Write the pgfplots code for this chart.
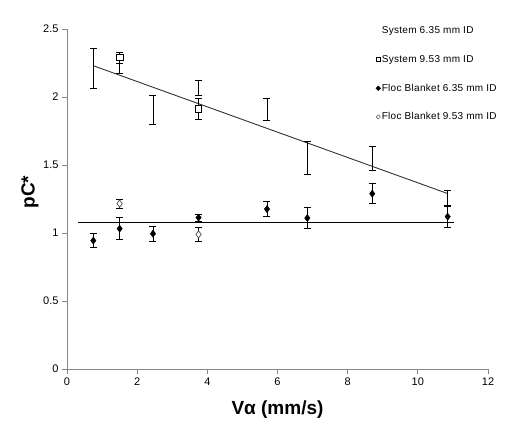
\documentclass[border=0pt]{standalone}
\usepackage{pgfplots}
\pgfplotsset{compat=1.18}
\usepackage{fontspec}
\setmainfont{Liberation Sans}
\definecolor{axgray}{HTML}{868686}
\definecolor{trendgray}{HTML}{333333}
\begin{document}
\begin{tikzpicture}
\useasboundingbox (-67pt,-67pt) rectangle (445pt,369pt);
\begin{axis}[
  at={(0pt,0pt)}, anchor=south west,
  scale only axis, width=421pt, height=340pt,
  xmin=0, xmax=12, ymin=0, ymax=2.5,
  xtick={0,2,4,6,8,10,12},
  ytick={0,0.5,1,1.5,2,2.5},
  axis lines=left,
  axis line style={-, draw=axgray, line width=0.8pt},
  tick style={draw=axgray, line width=0.8pt},
  tick align=outside, major tick length=5pt,
  /pgf/number format/assume math mode=true,
  ticklabel style={font=\fontsize{11}{13}\selectfont},
  every axis x label/.style={at={(axis description cs:0.5,0)}, anchor=center, yshift=-41pt},
  every axis y label/.style={at={(axis description cs:0,0.52)}, anchor=center, rotate=90, yshift=37pt},
  xlabel={\bfseries\fontsize{19}{22}\selectfont Vα (mm/s)},
  ylabel={\bfseries\fontsize{19}{22}\selectfont pC*},
  clip=false,
  legend cell align=left,
  legend style={at={(rel axis cs:0.733,1.012)}, anchor=north west, draw=none, fill=none,
    font=\fontsize{10}{12}\selectfont\addfontfeatures{LetterSpace=3}, row sep=17.2pt, inner sep=0pt,
    nodes={inner sep=1pt, text height=7.5pt, text depth=2pt}},
  error bars/y dir=both, error bars/y explicit,
  error bars/error bar style={black, line width=0.9pt},
  error bars/error mark options={black, rotate=90, mark size=3.5pt, line width=0.9pt},
]
% legend images
\addlegendimage{legend image code/.code={\path[draw=none,fill=none] (-2.3pt,-2.3pt) rectangle (2.3pt,2.3pt);}}
\addlegendentry{System 6.35 mm ID}
\addlegendimage{legend image code/.code={\draw[black, line width=0.6pt, fill=white] (-2.1pt,-2.1pt) rectangle (2.1pt,2.1pt);}}
\addlegendentry{System 9.53 mm ID}
\addlegendimage{legend image code/.code={\fill[black] (-2.3pt,0) -- (0,2.3pt) -- (2.3pt,0) -- (0,-2.3pt) -- cycle;}}
\addlegendentry{Floc Blanket 6.35 mm ID}
\addlegendimage{legend image code/.code={\draw[black!70, line width=0.5pt, fill=white] (-2.1pt,0) -- (0,2.1pt) -- (2.1pt,0) -- (0,-2.1pt) -- cycle;}}
\addlegendentry{Floc Blanket 9.53 mm ID}

% trend lines
\addplot[forget plot, trendgray, line width=0.9pt, no marks, error bars/y dir=none] coordinates {(0.75,2.23) (10.85,1.29)};
\addplot[forget plot, black, line width=1.2pt, no marks, error bars/y dir=none] coordinates {(0.32,1.08) (11.04,1.08)};

% System 6.35 mm ID (error bars only)
\addplot[forget plot, draw=none, mark=none] coordinates {
 (0.75,2.21) +- (0,0.147)
 (1.5,2.21) +- (0,0.035)
 (2.45,1.906) +- (0,0.106)
 (3.75,2.064) +- (0,0.054)
 (5.7,1.91) +- (0,0.08)
 (6.85,1.55) +- (0,0.12)
 (8.7,1.55) +- (0,0.088)
 (10.85,1.256) +- (0,0.055)
};
% System 9.53 mm ID
\addplot[forget plot, only marks, mark=square*, mark size=3.3pt,
  mark options={draw=black, fill=white, line width=0.8pt}] coordinates {
 (1.5,2.29) +- (0,0.04)
 (3.75,1.912) +- (0,0.077)
};
% Floc Blanket 6.35 mm ID
\addplot[forget plot, only marks, mark=diamond*, mark size=3.6pt,
  mark options={draw=black, fill=black}] coordinates {
 (0.75,0.944) +- (0,0.053)
 (1.5,1.032) +- (0,0.082)
 (2.45,0.995) +- (0,0.054)
 (3.75,1.113) +- (0,0.027)
 (5.7,1.176) +- (0,0.056)
 (6.85,1.11) +- (0,0.075)
 (8.7,1.289) +- (0,0.072)
 (10.85,1.12) +- (0,0.077)
};
% Floc Blanket 9.53 mm ID
\addplot[forget plot, only marks, mark=diamond*, mark size=3.6pt,
  mark options={draw=black!70, fill=white, line width=0.7pt}] coordinates {
 (1.5,1.216) +- (0,0.033)
 (3.75,0.99) +- (0,0.054)
};
\end{axis}
\end{tikzpicture}
\end{document}
